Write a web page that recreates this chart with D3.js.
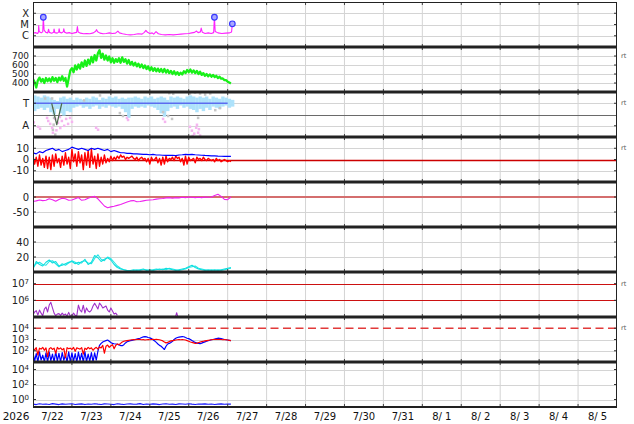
<!DOCTYPE html>
<html><head><meta charset="utf-8">
<script src="https://cdn.jsdelivr.net/npm/d3@7"></script>
<style>body{margin:0;background:#fff}svg{display:block}text{font-family:"DejaVu Sans",sans-serif}</style>
</head><body><svg id="c" width="634" height="424"></svg>
<script>
// ---------------- DATA ----------------
const startDate = Date.UTC(2026, 6, 22);   // 7/22 00:00 UT
const spanDays = 15;
const yearLabel = "2026";

// X-ray flux [day offset, W/m2]
const xray = [[0.00,1.7e-6],[0.06,1.9e-6],[0.12,1.6e-6],[0.14,2.2e-6],[0.146,8e-6],[0.16,2.4e-6],[0.21,1.8e-6],[0.25,2.2e-6],[0.265,4.4e-5],[0.285,3.2e-6],[0.33,2.0e-6],[0.38,1.8e-6],[0.40,3.8e-6],[0.42,2.0e-6],[0.48,1.7e-6],[0.53,2.0e-6],[0.54,4.0e-6],[0.56,1.9e-6],[0.62,1.7e-6],[0.66,2.1e-6],[0.67,4.2e-6],[0.69,2.0e-6],[0.74,1.8e-6],[0.78,2.3e-6],[0.79,4.2e-6],[0.81,2.1e-6],[0.87,1.7e-6],[0.93,1.9e-6],[1.00,1.6e-6],[1.06,1.8e-6],[1.12,2.0e-6],[1.14,6.5e-6],[1.16,2.2e-6],[1.22,1.7e-6],[1.30,1.5e-6],[1.38,1.6e-6],[1.46,1.5e-6],[1.55,1.8e-6],[1.61,2.5e-6],[1.63,3.5e-6],[1.66,2.3e-6],[1.72,1.7e-6],[1.80,1.5e-6],[1.88,1.6e-6],[1.96,1.8e-6],[2.04,1.6e-6],[2.12,1.7e-6],[2.18,2.6e-6],[2.22,1.8e-6],[2.30,1.5e-6],[2.40,1.3e-6],[2.50,1.2e-6],[2.60,1.3e-6],[2.70,1.5e-6],[2.80,1.4e-6],[2.86,2.0e-6],[2.90,3.0e-6],[2.94,2.0e-6],[3.00,1.6e-6],[3.06,1.8e-6],[3.10,1.4e-6],[3.16,2.3e-6],[3.22,1.5e-6],[3.30,1.3e-6],[3.40,1.2e-6],[3.50,1.3e-6],[3.60,1.2e-6],[3.70,1.3e-6],[3.80,1.4e-6],[3.90,1.5e-6],[4.00,1.6e-6],[4.08,1.8e-6],[4.15,2.0e-6],[4.20,2.6e-6],[4.24,1.9e-6],[4.30,2.2e-6],[4.32,4.8e-6],[4.35,2.0e-6],[4.42,1.6e-6],[4.50,1.8e-6],[4.58,1.6e-6],[4.64,1.9e-6],[4.66,4.4e-5],[4.68,2.4e-6],[4.75,1.8e-6],[4.85,1.6e-6],[4.95,1.7e-6],[5.05,1.8e-6],[5.10,2.2e-6],[5.12,1.15e-5]];
const flares = [[0.265,4.4e-5],[4.66,4.4e-5],[5.12,1.15e-5]];
const xrayTickVals = [1e-4, 1e-5, 1e-6];
const xrayTickLabels = ["X", "M", "C"];

// Solar wind speed, hourly (km/s)
const windSpeed = [445,410,350,430,460,415,445,400,455,420,
450,415,465,425,455,410,460,430,475,425,
455,360,450,540,565,520,595,550,605,560,
630,580,650,590,660,610,690,630,710,650,
730,765,680,725,660,705,650,695,630,675,
625,665,635,675,625,685,635,665,615,655,
605,635,595,625,585,615,575,605,565,595,
555,585,540,575,535,565,530,560,525,555,
520,555,515,545,510,535,500,530,495,520,
490,515,495,530,510,545,520,550,515,540,
510,535,500,525,490,510,480,500,475,495,
470,490,465,480,455,470,448,450,432,432,
415,405,395];
const windTicks = [700, 600, 500, 400];

// IMF sector, 2-hourly spread [upper, lower] (T=+1, A=-1)
const sectorBand = [[1.7,0.3],[1.6,0.5],[1.5,0.6],[1.7,0.4],[1.6,0.6],[1.5,0.2],[1.3,0.0],[1.2,0.5],[1.5,0.1],[1.6,-0.1],
[1.4,0.3],[1.5,0.2],[1.3,0.6],[1.5,0.7],[1.4,0.8],[1.3,0.6],[1.5,0.7],[1.4,0.5],[1.6,0.7],[1.5,0.8],
[1.3,0.5],[1.5,0.7],[1.4,0.6],[1.6,0.8],[1.5,0.7],[1.6,0.6],[1.4,0.7],[1.5,0.5],[1.4,0.2],[1.5,-0.3],
[1.5,0.5],[1.6,0.7],[1.5,0.6],[1.4,0.7],[1.6,0.6],[1.5,0.8],[1.6,0.7],[1.4,0.6],[1.5,0.4],[1.6,0.1],
[1.5,-0.2],[1.3,0.3],[1.6,0.6],[1.5,0.7],[1.6,0.5],[1.5,0.8],[1.4,0.6],[1.6,0.7],[1.7,0.5],[1.6,0.4],
[1.5,0.2],[1.6,0.5],[1.5,0.3],[1.6,0.6],[1.4,0.4],[1.6,0.7],[1.5,0.6],[1.4,0.5],[1.6,0.7],[1.5,0.8],[1.4,0.6],[1.3,0.7]];
const sectorAway = [[0.02,-0.7],[0.13,-1.09],[0.18,-1.26],[0.36,-0.3],[0.39,-0.57],[0.44,-0.83],[0.49,-1.17],[0.51,-1.61],[0.57,-0.39],[0.64,-0.74],[0.69,-0.22],[0.74,-0.57],[0.8,-1.0],[0.85,-0.39],[0.9,-0.83],[0.95,-0.3],[1.0,-0.65],[0.6,-1.4],[0.7,-1.2],[1.62,-1.17],[1.67,-1.35],[2.41,-0.3],[2.44,-0.48],[3.34,-0.39],[3.39,-0.65],[4.03,-1.09],[4.08,-1.43],[4.14,-1.7],[4.19,-1.17],[4.24,-1.61],[4.29,-1.87],[4.21,-0.91],[4.1,-1.9],[4.26,-1.3]];
const sectorGrey = [[0.49,1.43],[0.51,0.57],[0.54,-0.3],[0.51,-1.35],[0.57,-1.78],[0.53,-0.9],[0.31,1.43],[2.23,0.13],[2.31,-0.13],[3.34,0.22],[3.47,-0.13],[3.57,-0.39],[4.03,1.87],[4.16,1.96],[4.29,1.87],[4.42,1.78],[4.55,1.87],[4.24,-0.3],[4.68,0.39],[4.8,0.57],[1.72,1.7],[1.31,1.26],[3.5,1.9],[3.6,1.85]];
const sectorLine = [[0, 1], [5.0, 1]];
const sectorDip = [[0.48, 1], [0.61, -0.91], [0.74, 1]];
const sectorTicks = [1, -1];
const sectorLabels = ["T", "A"];

// IMF Bt (2-hourly) and Bz (hourly), nT
const imfBt = [6,5,7,6,8,9,10,8,9,7,
8,9,11,10,9,10,9,8,10,9,
10,9,8,9,7,8,7,6,6,5.5,
5.5,5,5,4.8,4.5,4.5,4.2,4.5,4,4,
3.8,3.6,3.6,3.8,3.5,4,4.2,4.5,4.3,4.6,
4.2,4,3.8,3.6,3.5,3.3,3.2,3,2.9,2.8,2.7,2.7];
const imfBz = [3,-4,2,-6,4,-5,1,-7,3,-8,
2,-9,4,-6,5,-3,1,-7,3,-5,
6,-4,2,-8,9,-2,5,-6,7,-3,
4,-9,6,-5,8,-7,9,-4,3,-8,
5,-6,2,-4,4,-3,1,-2,3,-1,
2,0,3,1,4,2,3,0,2,1,
2,3,1,0,2,-1,1,2,0,1,
-2,1,-4,2,-1,0,2,-3,1,-5,
2,-4,3,-2,1,0,2,-1,3,1,
2,-2,1,-5,3,-4,2,-1,0,1,
-3,2,0,1,-1,2,0,-1,1,0,
-1,0,-2,1,-1,0,-2,-1,0,-1,
-2,-1,-2];
const imfTicks = [10, 0, -10];

// Dst (2-hourly), nT
const dst = [-15,-13,-10,-12,-11,-6,-9,-14,-8,-4,
-6,-11,-10,-6,-2,-11,-9,-4,0,2,
-6,-18,-30,-36,-33,-31,-28,-25,-21,-17,
-13,-12,-16,-15,-13,-11,-10,-9,-7,-6,
-5,-3,-2,-4,-2,-3,-1,-2,0,-1,
-2,-1,-2,0,-1,0,5,9,2,-8,-9,0];
const dstTicks = [0, -50];

// Geomagnetic activity (2-hourly), two stations
const activityA = [4,14,10,8,13,16,12,14,8,9,
11,13,14,11,13,12,17,10,13,22,
19,14,17,19,16,10,6,4,3,2,
2,3,2,3,4,2,3,2,3,4,
3,5,4,3,2,3,4,5,7,9,
6,4,3,2,3,2,3,2,3,4,5,6];
const activityB = [6,11,13,10,9,14,15,11,7,11,
9,12,15,13,10,14,15,12,11,18,
23,17,15,20,18,13,8,5,3,2,
1,2,3,2,3,3,2,3,4,3,
4,3,5,4,3,2,3,4,6,7,
8,5,4,3,2,3,2,3,2,3,4,5];
const activityTicks = [40, 20];

// Electron flux (hourly)
const electrons = [1.3e5,2.0e5,2.4e5,1.3e5,2.6e5,1.7e5,1.2e5,3.0e5,4.0e5,2.0e5,
5.2e5,7.6e5,3.5e5,1.7e5,1.2e5,1.5e5,1.6e5,1.25e5,1.7e5,1.3e5,
1.5e5,1.15e5,1.9e5,1.15e5,1.2e5,1.7e5,1.25e5,1.2e5,5.2e5,2.6e5,
2.0e5,5.1e5,1.7e5,3.5e5,2.3e5,2.0e5,2.6e5,4.6e5,6.6e5,4.6e5,
3.0e5,6.9e5,5.2e5,3.5e5,4.0e5,4.6e5,2.6e5,2.0e5,3.5e5,2.3e5,
1.5e5,1.7e5,1.25e5];
const electronBlip = [[3.66,1.02e5],[3.69,1.8e5],[3.72,1.02e5]];
const electronLevels = [1e7, 1e6];

// Proton flux (hourly), two channels
const protonBlue = [70,12,55,10,80,15,40,11,65,10,
75,13,50,10,85,12,60,10,70,14,
45,10,80,11,65,12,55,10,75,13,
60,10,85,11,50,12,70,10,65,15,
90,300,450,600,700,800,900,700,550,450,
420,400,380,330,290,280,350,500,630,700,
800,850,900,1000,1100,1200,1300,1500,1700,1800,
1700,1500,1400,1200,950,750,550,400,300,250,
180,130,250,400,450,550,700,1000,1300,1500,
1600,1700,1800,1750,1500,1300,1200,1000,800,650,
550,480,450,430,480,550,620,700,780,850,
950,1000,1100,1200,1300,1250,1200,1100,1000,950,
900,850,800];
const protonRed = [160,120,190,40,170,140,200,110,180,30,
150,190,130,170,60,200,140,180,120,160,
25,190,150,170,130,200,90,180,160,140,
190,50,170,130,200,150,180,110,160,200,
140,220,180,300,60,250,320,200,280,350,
150,300,400,350,450,600,700,750,800,850,
900,950,1000,950,1000,1050,1000,950,1000,900,
950,1000,950,1000,1050,1000,1050,1000,950,850,
750,600,500,550,650,750,800,850,900,950,
1000,950,1000,950,900,800,700,600,550,500,
450,480,520,600,650,700,750,800,850,900,
950,1000,1000,1050,1000,1050,1000,950,1000,950,
900,850,800];
const protonTicks = [1e4, 1e3, 1e2];
const protonAlert = 1e4;

// Bottom panel flux (2-hourly)
const lowFlux = [0.24,0.21,0.27,0.23,0.25,0.22,0.28,0.24,0.21,0.26,
0.23,0.25,0.27,0.22,0.24,0.26,0.21,0.25,0.23,0.27,
0.24,0.22,0.26,0.25,0.23,0.21,0.27,0.24,0.22,0.25,
0.26,0.23,0.24,0.28,0.22,0.25,0.23,0.26,0.24,0.21,
0.25,0.27,0.23,0.24,0.22,0.26,0.25,0.23,0.27,0.24,
0.22,0.25,0.24,0.26,0.23,0.25,0.22,0.24,0.26,0.23,0.25,0.24];
const lowTicks = [1e4, 1e2, 1e0];

// ---------------- DRAWING ----------------
const svg = d3.select("#c");
const L = 33, R = 617, TOP = 2, PH = 45, NP = 9;
const pTop = i => TOP + PH * i;
const DAY = 864e5;
const x = d3.scaleUtc().domain([new Date(startDate), new Date(startDate + spanDays * DAY)]).range([L, R]);
const X = t => x(new Date(startDate + t * DAY));
const series = (arr, stepH) => arr.map((v, i) => [i * stepH / 24, v]);

const yX = d3.scaleLog().domain([1e-7, 1e-3]).range([pTop(1), pTop(0)]);
const yV = d3.scaleLinear().domain([300, 800]).range([pTop(2), pTop(1)]);
const yS = d3.scaleLinear().domain([-2, 2]).range([pTop(3), pTop(2)]);
const yB = d3.scaleLinear().domain([-20, 20]).range([pTop(4), pTop(3)]);
const yD = d3.scaleLinear().domain([-100, 50]).range([pTop(5), pTop(4)]);
const yK = d3.scaleLinear().domain([0, 60]).range([pTop(6), pTop(5)]);
const yE = d3.scaleLog().domain([1e5, Math.pow(10, 7.7)]).range([pTop(7), pTop(6)]);
const yP = d3.scaleLog().domain([10, 1e5]).range([pTop(8), pTop(7)]);
const yN = d3.scaleLog().domain([0.1, 1e5]).range([pTop(9), pTop(8)]);

const defs = svg.append("defs");
for (let i = 0; i < NP; i++) {
  defs.append("clipPath").attr("id", "cp" + i).append("rect")
    .attr("x", L).attr("y", pTop(i)).attr("width", R - L).attr("height", PH);
}
const gridCol = "#d4d4d4";
const gGrid = svg.append("g");
const gData = svg.append("g");
const gFrame = svg.append("g");

// vertical day grid
const days = d3.utcDay.range(new Date(startDate), new Date(startDate + spanDays * DAY));
days.slice(1).forEach(d => {
  gGrid.append("line").attr("x1", x(d)).attr("x2", x(d)).attr("y1", pTop(0)).attr("y2", pTop(NP))
    .attr("stroke", gridCol).attr("stroke-width", 1);
});

function hgrid(y, vals, col, w, dash) {
  vals.forEach(v => {
    const yy = Math.round(y(v)) + 0.5;
    const l = gGrid.append("line").attr("x1", L).attr("x2", R).attr("y1", yy).attr("y2", yy)
      .attr("stroke", col || gridCol).attr("stroke-width", w || 1);
    if (dash) l.attr("stroke-dasharray", dash);
  });
}
hgrid(yX, xrayTickVals);
hgrid(yV, windTicks);
hgrid(yS, sectorTicks);
hgrid(yS, [0], "#6a6a6a", 1);
hgrid(yB, [10, -10]);
hgrid(yD, [-50]);
hgrid(yK, activityTicks);
hgrid(yP, [1e3, 1e2]);
hgrid(yN, lowTicks);
// reference lines
hgrid(yB, [0], "#cc0000", 1.5);
gGrid.append("line").attr("x1", L).attr("x2", R).attr("y1", yD(0)).attr("y2", yD(0)).attr("stroke", "#d46e6e").attr("stroke-width", 2.2);
hgrid(yE, electronLevels, "#cc1111", 1.2);
gGrid.append("line").attr("x1", L).attr("x2", R).attr("y1", yP(protonAlert)).attr("y2", yP(protonAlert))
  .attr("stroke", "#e23a3a").attr("stroke-width", 1.5).attr("stroke-dasharray", "8,4.5");

function drawLine(panel, data, y, color, w) {
  gData.append("path").datum(data).attr("clip-path", `url(#cp${panel})`)
    .attr("d", d3.line().defined(d => d[1] != null).x(d => X(d[0])).y(d => y(d[1])))
    .attr("fill", "none").attr("stroke", color).attr("stroke-width", w).attr("stroke-linejoin", "round");
}

// Panel 0: X-ray
drawLine(0, xray, yX, "#ff22ff", 1.1);
gData.selectAll(".flare").data(flares).join("circle")
  .attr("cx", d => X(d[0])).attr("cy", d => yX(d[1])).attr("r", 2.8)
  .attr("fill", "#a8a8ff").attr("stroke", "#3838ff").attr("stroke-width", 1.2);

// Panel 1: wind speed
drawLine(1, series(windSpeed, 1), yV, "#18f018", 2.3);

// Panel 2: sector
const g2 = gData.append("g").attr("clip-path", "url(#cp2)");
const w2 = X(2 / 24) - X(0);
g2.selectAll(".band").data(sectorBand).join("rect")
  .attr("x", (d, i) => X(i * 2 / 24)).attr("width", w2 + 0.2)
  .attr("y", d => yS(d[0])).attr("height", d => yS(d[1]) - yS(d[0]))
  .attr("fill", "#aee2fb");
g2.selectAll(".grey").data(sectorGrey).join("rect")
  .attr("x", d => X(d[0]) - 1.2).attr("y", d => yS(d[1]) - 1.2).attr("width", 2.5).attr("height", 2.5)
  .attr("fill", "#c6c6c6");
g2.selectAll(".away").data(sectorAway).join("rect")
  .attr("x", d => X(d[0]) - 1.2).attr("y", d => yS(d[1]) - 1.2).attr("width", 2.5).attr("height", 2.5)
  .attr("fill", "#f5b5f0");
drawLine(2, sectorLine, yS, "#5c6cf0", 1.3);
drawLine(2, sectorDip, yS, "#4d6b4d", 1.2);

// Panel 3: IMF
drawLine(3, series(imfBz, 1), yB, "#ff0000", 1.4);
drawLine(3, series(imfBt, 2), yB, "#0000ff", 1.2);

// Panel 4: Dst
drawLine(4, series(dst, 2), yD, "#ee22ee", 1.1);

// Panel 5: activity
drawLine(5, series(activityB, 2), yK, "#22e6e6", 1.1);
drawLine(5, series(activityA, 2), yK, "#10dede", 1.1);

// Panel 6: electrons
drawLine(6, series(electrons, 1), yE, "#a030c8", 1.1);
drawLine(6, electronBlip, yE, "#a030c8", 1.1);

// Panel 7: protons
drawLine(7, series(protonBlue, 1), yP, "#0000ff", 1.2);
drawLine(7, series(protonRed, 1), yP, "#ff0000", 1.2);

// Panel 8: low flux
drawLine(8, series(lowFlux, 2), yN, "#1a1aff", 1.1);

// ---------------- FRAME & LABELS ----------------
const fs = 10;
function ylab(y, vals, labels, sup, size) {
  vals.forEach((v, i) => {
    const t = gFrame.append("text").attr("x", 29).attr("y", y(v)).attr("dy", "0.36em")
      .attr("text-anchor", "end").attr("font-size", size || fs).attr("fill", "#222");
    if (sup) {
      t.text("10");
      t.append("tspan").attr("dy", "-0.45em").attr("font-size", 7).text(labels[i]);
    } else t.text(labels[i]);
    gFrame.append("line").attr("x1", L).attr("x2", L + 3).attr("y1", y(v)).attr("y2", y(v)).attr("stroke", "#333");
    gFrame.append("line").attr("x1", R - 3).attr("x2", R).attr("y1", y(v)).attr("y2", y(v)).attr("stroke", "#333");
  });
}
ylab(yX, xrayTickVals, xrayTickLabels);
ylab(yV, windTicks, windTicks.map(String), false, 8.9);
ylab(yS, sectorTicks, sectorLabels);
ylab(yB, imfTicks, imfTicks.map(v => v < 0 ? "-" + (-v) : String(v)));
ylab(yD, dstTicks, dstTicks.map(v => v < 0 ? "-" + (-v) : String(v)));
ylab(yK, activityTicks, activityTicks.map(String));
ylab(yE, electronLevels, electronLevels.map(v => String(Math.round(Math.log10(v)))), true);
ylab(yP, protonTicks, protonTicks.map(v => String(Math.round(Math.log10(v)))), true);
ylab(yN, lowTicks, lowTicks.map(v => String(Math.round(Math.log10(v)))), true);

// "rt" markers
[[yV, 700], [yS, 1], [yB, 10], [yE, 1e7], [yP, 1e4]].forEach(([y, v]) => {
  gFrame.append("text").attr("x", 621).attr("y", y(v)).attr("dy", "0.3em").attr("font-size", 6.5)
    .attr("fill", "#555").text("rt");
});

// day ticks on each panel edge
for (let i = 0; i <= NP; i++) {
  days.slice(1).forEach(d => {
    gFrame.append("line").attr("x1", x(d)).attr("x2", x(d)).attr("y1", pTop(i) - (i > 0 ? 3 : 0)).attr("y2", pTop(i) + (i < NP ? 3 : 0))
      .attr("stroke", "#444").attr("stroke-width", 1);
  });
}
// panel separators
for (let i = 1; i < NP; i++) {
  gFrame.append("line").attr("x1", L).attr("x2", R).attr("y1", pTop(i)).attr("y2", pTop(i))
    .attr("stroke", "#222").attr("stroke-width", 3);
}
gFrame.append("line").attr("x1", L).attr("x2", R).attr("y1", pTop(0) + 0.5).attr("y2", pTop(0) + 0.5).attr("stroke", "#222").attr("stroke-width", 1);
gFrame.append("line").attr("x1", L).attr("x2", R).attr("y1", pTop(NP)).attr("y2", pTop(NP)).attr("stroke", "#222").attr("stroke-width", 2);
gFrame.append("line").attr("x1", L + 0.5).attr("x2", L + 0.5).attr("y1", pTop(0)).attr("y2", pTop(NP)).attr("stroke", "#222").attr("stroke-width", 1);
gFrame.append("line").attr("x1", R - 0.5).attr("x2", R - 0.5).attr("y1", pTop(0)).attr("y2", pTop(NP)).attr("stroke", "#222").attr("stroke-width", 1);

// x labels
const fmt = d3.utcFormat("%-m/%e");
days.forEach(d => {
  gFrame.append("text").attr("x", x(new Date(+d + DAY / 2))).attr("y", 420).attr("text-anchor", "middle")
    .attr("font-size", fs).attr("fill", "#111").style("white-space", "pre").text(fmt(d));
});
gFrame.append("text").attr("x", 16).attr("y", 420).attr("text-anchor", "middle").attr("font-size", fs + 0.5)
  .attr("fill", "#111").text(yearLabel);
</script></body></html>
